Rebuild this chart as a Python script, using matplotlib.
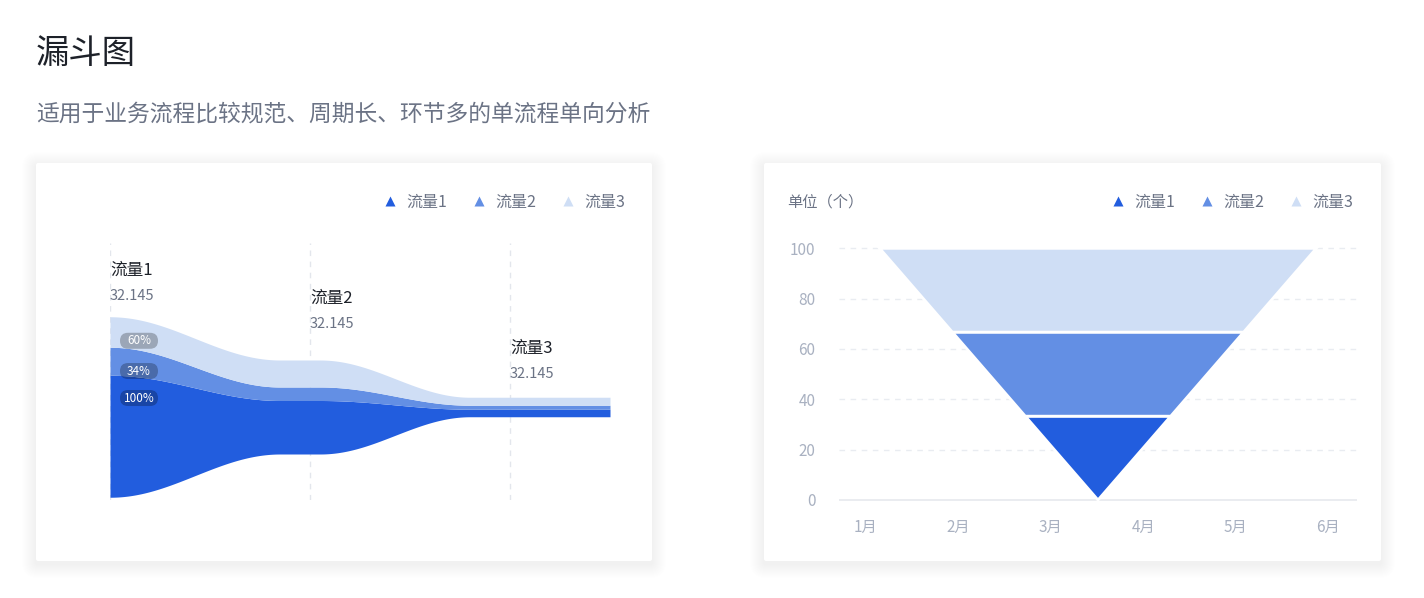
import numpy as np
import matplotlib
matplotlib.use('Agg')
import matplotlib.pyplot as plt
from matplotlib.patches import FancyBboxPatch, Polygon

plt.rcParams['font.family'] = ['Noto Sans CJK SC', 'DejaVu Sans']

# ---------------- data ----------------
title = '漏斗图'
subtitle = '适用于业务流程比较规范、周期长、环节多的单流程单向分析'
series_names = ['流量1', '流量2', '流量3']
stage_names = ['流量1', '流量2', '流量3']
stage_values = ['32.145', '32.145', '32.145']
flow1 = [122.0, 53.5, 7.5]     # stream thickness of each series at each stage
flow2 = [28.0, 13.5, 4.0]
flow3 = [30.5, 27.0, 8.0]
pct_labels = ['100%', '34%', '60%']   # flow1, flow2, flow3
months = ['1月', '2月', '3月', '4月', '5月', '6月']
funnel_levels = [0, 33.3, 66.7, 100]  # boundaries: flow1 | flow2 | flow3
funnel_top_halfwidth = 2.36
y_ticks = [0, 20, 40, 60, 80, 100]
unit_label = '单位（个）'

# ---------------- style ----------------
C1, C2, C3 = '#225DDE', '#638FE4', '#CFDEF5'
colors = [C1, C2, C3]
DARK = '#1d2129'
GREY = '#6b7385'
LIGHT = '#a9b1c1'
GRID = '#e9ecf1'

W, H = 1424, 598
fig = plt.figure(figsize=(W / 100, H / 100), dpi=100)
fig.patch.set_facecolor('white')


def px_axes(l, t, r, b, z=0):
    return fig.add_axes([l / W, 1 - b / H, (r - l) / W, (b - t) / H], zorder=z)


def to_px(ax, x, y):
    dx, dy = ax.transData.transform((x, y))
    return dx, H - dy


# background (cards)
bg = fig.add_axes([0, 0, 1, 1], zorder=-10)
bg.set_xlim(0, W); bg.set_ylim(H, 0); bg.axis('off')
for (x0, y0, x1, y1) in [(36, 163, 652, 561), (764, 163, 1381, 561)]:
    for i in range(1, 15):
        bg.add_patch(FancyBboxPatch((x0 - i, y0 - i + 3), (x1 - x0) + 2 * i, (y1 - y0) + 2 * i,
                                    boxstyle=f'round,pad=0,rounding_size={2 + i}',
                                    fc='black', ec='none', alpha=0.0045))
    bg.add_patch(FancyBboxPatch((x0, y0), x1 - x0, y1 - y0,
                                boxstyle='round,pad=0,rounding_size=2', fc='white', ec='none'))

# overlay for texts / badges
ov = fig.add_axes([0, 0, 1, 1], zorder=10)
ov.set_xlim(0, W); ov.set_ylim(H, 0); ov.axis('off')
ov.patch.set_alpha(0)

ov.text(36, 53, title, fontsize=24, color=DARK, va='center', ha='left')
ov.text(36, 114, subtitle, fontsize=16.4, color=GREY, va='center', ha='left')

# ---------------- left: stream funnel ----------------
ax1 = px_axes(110, 243, 610, 500, z=1)
ax1.set_xlim(0, 2.5)
ax1.set_ylim(-93, 164)
ax1.axis('off')
stages = [0, 1, 2]


def profile(vals, x):
    segs = [(0.0, 0.85), (1.05, 1.8)]
    out = np.full_like(x, vals[0], dtype=float)
    for i, (a, b) in enumerate(segs):
        t = np.clip((x - a) / (b - a), 0, 1)
        s = (1 - np.cos(np.pi * t)) / 2
        out = out + s * (vals[i + 1] - vals[i])
    return out


xs = np.linspace(0, 2.5, 600)
layers = [profile(f, xs) for f in (flow1, flow2, flow3)]
total = sum(layers)
base = -total / 2
for s in stages:
    ax1.axvline(s, color='#e3e6ec', lw=1, ls=(0, (4, 4)), zorder=0)
cur = base.copy()
for lay, col in zip(layers, colors):
    ax1.fill_between(xs, cur, cur + lay, color=col, lw=0, zorder=2)
    cur = cur + lay

# stage labels
label_px_y = [(270, 296), (298, 324), (348, 374)]
for s, nm, val, (ly, vy) in zip(stages, stage_names, stage_values, label_px_y):
    px, _ = to_px(ax1, s, 0)
    ov.text(px, ly, nm, fontsize=12, color=DARK, va='center', ha='left')
    ov.text(px, vy, val, fontsize=10.5, color=GREY, va='center', ha='left')

# percentage badges
bx = 0.145
xb = np.array([bx])
cum = -sum(profile(f, xb) for f in (flow1, flow2, flow3)) / 2
for f, lab in zip((flow1, flow2, flow3), pct_labels):
    cum = cum + profile(f, xb)
    cx, cy = to_px(ax1, bx, cum[0] - 21)
    ov.add_patch(FancyBboxPatch((cx - 19, cy - 8), 38, 16,
                                boxstyle='round,pad=0,rounding_size=8',
                                fc='black', ec='none', alpha=0.25))
    ov.text(cx, cy, lab, fontsize=8.5, color='white', va='center', ha='center')


def legend(x0):
    for i, (nm, col) in enumerate(zip(series_names, colors)):
        x = x0 + 89 * i
        ov.plot([x], [201], marker='^', ms=7.5, color=col, mec='none', ls='none')
        ov.text(x + 16, 202, nm, fontsize=11.5, color=GREY, va='center', ha='left')


legend(390)

# ---------------- right: triangle funnel ----------------
ax2 = px_axes(839, 243.3, 1357, 502.5, z=1)
ax2.set_xlim(-0.29, 5.31)
ax2.set_ylim(-1, 102)
for sp in ax2.spines.values():
    sp.set_visible(False)
for v in y_ticks:
    if v == 0:
        ax2.axhline(v, color='#e6e9ee', lw=1.2, zorder=0)
    else:
        ax2.axhline(v, color=GRID, lw=1, ls=(0, (4, 4)), zorder=0)
cxm = np.mean(ax2.get_xlim())
k = funnel_top_halfwidth / funnel_levels[-1]
for i, col in enumerate(colors):
    y0, y1 = funnel_levels[i], funnel_levels[i + 1]
    pts = [(cxm - k * y0, y0), (cxm + k * y0, y0), (cxm + k * y1, y1), (cxm - k * y1, y1)]
    ax2.add_patch(Polygon(pts, closed=True, fc=col, ec='white', lw=2, zorder=2, joinstyle='miter'))
ax2.set_xticks(range(len(months)))
ax2.set_xticklabels(months)
ax2.set_yticks(y_ticks)
ax2.tick_params(axis='x', length=0, pad=12, labelsize=11, labelcolor=LIGHT)
ax2.tick_params(axis='y', length=0, pad=17, labelsize=11, labelcolor=LIGHT)
ax2.patch.set_alpha(0)

ov.text(787, 202, unit_label, fontsize=11, color=GREY, va='center', ha='left')
legend(1118)

fig.savefig('out.png', dpi=100, facecolor='white')
